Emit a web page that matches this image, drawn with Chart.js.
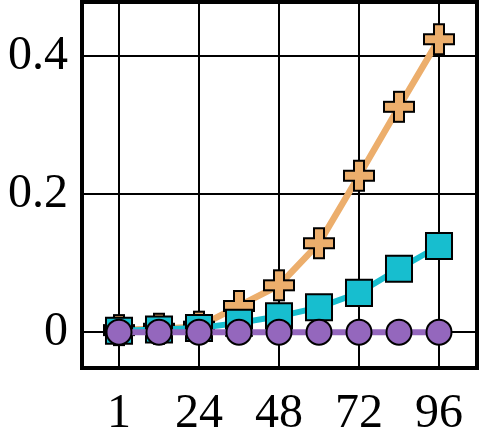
<!DOCTYPE html>
<html>
<head>
<meta charset="utf-8">
<script src="https://cdn.jsdelivr.net/npm/chart.js@4"></script>
<style>
  body { margin: 0; background: #fff; }
  #chart-container { width: 483px; height: 441px; }
</style>
</head>
<body>
<div id="chart-container"><canvas id="chart" width="483" height="441"></canvas></div>
<script>
const categories = ["1", "12", "24", "36", "48", "60", "72", "84", "96"];
const xTickIndex = [0, 2, 4, 6, 8];
const yTicks = [0, 0.2, 0.4];

const plusSeries = [0.003, 0.005, 0.008, 0.038, 0.068, 0.129, 0.227, 0.327, 0.425];
const squareSeries = [0.002, 0.004, 0.006, 0.0135, 0.023, 0.036, 0.057, 0.092, 0.125];
const circleSeries = [0, 0, 0, 0, 0, 0, 0, 0, 0];

const orange = "#ecae6c";
const teal = "#17becf";
const purple = "#9467bd";

// filled plus marker with black outline
function makePlus(size, fill) {
    const c = document.createElement("canvas");
    c.width = size + 4;
    c.height = size + 4;
    const ctx = c.getContext("2d");
    const o = 2, a = size / 3;
    ctx.beginPath();
    ctx.moveTo(o + a, o);
    ctx.lineTo(o + 2 * a, o);
    ctx.lineTo(o + 2 * a, o + a);
    ctx.lineTo(o + size, o + a);
    ctx.lineTo(o + size, o + 2 * a);
    ctx.lineTo(o + 2 * a, o + 2 * a);
    ctx.lineTo(o + 2 * a, o + size);
    ctx.lineTo(o + a, o + size);
    ctx.lineTo(o + a, o + 2 * a);
    ctx.lineTo(o, o + 2 * a);
    ctx.lineTo(o, o + a);
    ctx.lineTo(o + a, o + a);
    ctx.closePath();
    ctx.fillStyle = fill;
    ctx.fill();
    ctx.lineWidth = 2;
    ctx.strokeStyle = "#000";
    ctx.stroke();
    return c;
}

const toPoints = arr => arr.map((v, i) => ({ x: i, y: v }));

const framePlugin = {
    id: "frame",
    afterDraw(chart) {
        const a = chart.chartArea;
        const ctx = chart.ctx;
        ctx.save();
        ctx.lineWidth = 4;
        ctx.strokeStyle = "#000";
        ctx.strokeRect(a.left, a.top, a.right - a.left, a.bottom - a.top);
        ctx.restore();
    }
};

const tickFont = { family: "'Liberation Serif', 'Times New Roman', serif", size: 48 };

new Chart(document.getElementById("chart").getContext("2d"), {
    type: "line",
    data: {
        datasets: [
            {
                data: toPoints(circleSeries),
                borderColor: purple,
                borderWidth: 6,
                pointStyle: "circle",
                pointRadius: 12.5,
                pointBackgroundColor: purple,
                pointBorderColor: "#000",
                pointBorderWidth: 2
            },
            {
                data: toPoints(squareSeries),
                borderColor: teal,
                borderWidth: 6,
                pointStyle: "rect",
                pointRadius: 18.4,
                pointBackgroundColor: teal,
                pointBorderColor: "#000",
                pointBorderWidth: 2
            },
            {
                data: toPoints(plusSeries),
                borderColor: orange,
                borderWidth: 6.5,
                pointStyle: makePlus(30, orange),
                pointRadius: 15
            }
        ]
    },
    options: {
        responsive: false,
        animation: false,
        clip: false,
        layout: { autoPadding: false, padding: { top: 2, right: 6, left: 0, bottom: 0 } },
        plugins: { legend: { display: false }, tooltip: { enabled: false } },
        scales: {
            x: {
                type: "linear",
                min: -0.925,
                max: 8.95,
                afterBuildTicks: s => { s.ticks = xTickIndex.map(v => ({ value: v })); },
                afterFit: s => { s.height = 73; s.paddingLeft = 0; s.paddingRight = 0; },
                ticks: {
                    color: "#000",
                    font: tickFont,
                    padding: 18,
                    maxRotation: 0,
                    callback: v => categories[v]
                },
                grid: { color: "#000", lineWidth: 2, drawTicks: false },
                border: { display: false }
            },
            y: {
                min: -0.052,
                max: 0.479,
                afterBuildTicks: s => { s.ticks = yTicks.map(v => ({ value: v })); },
                afterFit: s => { s.width = 82; s.paddingTop = 0; s.paddingBottom = 0; },
                ticks: {
                    color: "#000",
                    font: tickFont,
                    padding: 14,
                    callback: v => String(v)
                },
                grid: { color: "#000", lineWidth: 2, drawTicks: false },
                border: { display: false }
            }
        }
    },
    plugins: [framePlugin]
});
</script>
</body>
</html>
